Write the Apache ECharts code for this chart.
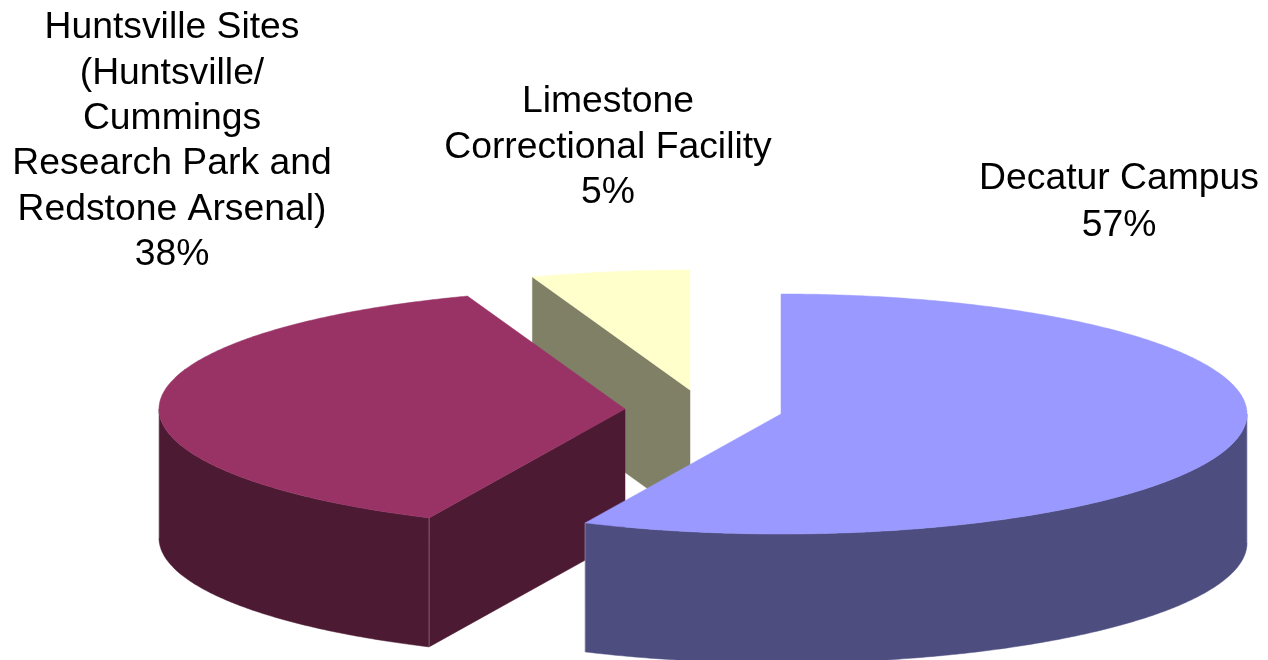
<!DOCTYPE html>
<html>
<head>
<meta charset="utf-8">
<style>html,body{margin:0;padding:0;background:#fff;overflow:hidden}#c{width:1268px;height:660px}</style>
<script src="https://cdn.jsdelivr.net/npm/echarts@6/dist/echarts.min.js"></script>
</head>
<body>
<div id="c"></div>
<script>
// Data
const categories = ['Decatur Campus', 'Huntsville Sites\n(Huntsville/\nCummings\nResearch Park and\nRedstone Arsenal)', 'Limestone\nCorrectional Facility'];
const shares = [56.9, 37.6, 5.49];

// Style and layout
const topColors = ['#9999FF', '#993366', '#FFFFCC'];
const wallColors = ['#4D4D80', '#4D1A33', '#808066'];
const sliceCentres = [[781, 414], [625, 409], [690, 390]];
const labelCentres = [[1119, 202.5], [172, 141.5], [608, 147.5]];
const labelLineHeights = [47, 45.4, 45.4];
const radiusX = 466, radiusY = 120, depth = 129;
const font = '"Liberation Sans", Arial, sans-serif';

const total = shares.reduce((a, b) => a + b, 0);
const startAngles = shares.map((_, i) => shares.slice(0, i).reduce((a, b) => a + b, 0) / total * 360);

function rimPoint(c, deg, drop) {
  const t = deg * Math.PI / 180;
  return [c[0] + radiusX * Math.sin(t), c[1] - radiusY * Math.cos(t) + drop];
}
function arc(c, a0, a1, drop) {
  const n = Math.max(2, Math.ceil(Math.abs(a1 - a0) * 2));
  const pts = [];
  for (let i = 0; i <= n; i++) pts.push(rimPoint(c, a0 + (a1 - a0) * i / n, drop));
  return pts;
}
const poly = (points, fill, z2) => ({ type: 'polygon', z2, silent: true, shape: { points }, style: { fill, stroke: fill, lineWidth: 0.5 } });
const edge = (p, q, z2, alpha) => ({ type: 'line', z2, silent: true, shape: { x1: p[0], y1: p[1], x2: q[0], y2: q[1] }, style: { stroke: 'rgba(255,255,255,' + alpha + ')', lineWidth: 1 } });

function renderSlice(params, api) {
  const i = params.dataIndex;
  const c = sliceCentres[i];
  const a0 = startAngles[i];
  const a1 = a0 + api.value(0) / total * 360;
  const base = (shares.length - i) * 10;
  const apexLow = [c[0], c[1] + depth];
  const children = [];

  // Cut faces that look toward the viewer
  const s0 = rimPoint(c, a0, 0), s0Low = rimPoint(c, a0, depth);
  if (Math.sin(a0 * Math.PI / 180) < -1e-6) {
    children.push(poly([c, s0, s0Low, apexLow], wallColors[i], base));
  }
  const s1 = rimPoint(c, a1, 0), s1Low = rimPoint(c, a1, depth);
  if (Math.sin(a1 * Math.PI / 180) > 1e-6) {
    children.push(poly([c, s1, s1Low, apexLow], wallColors[i], base));
  }
  // Outer wall: the near half of the rim only
  const w0 = Math.max(a0, 90), w1 = Math.min(a1, 270);
  if (w1 > w0) {
    const upper = arc(c, w0, w1, 0), lower = arc(c, w1, w0, depth);
    children.push(poly(upper.concat(lower), wallColors[i], base + 1));
    children.push(edge(rimPoint(c, w0, 0), rimPoint(c, w0, depth), base + 2, 0.3));
    children.push(edge(rimPoint(c, w1, 0), rimPoint(c, w1, depth), base + 2, 0.3));
  }
  // Top face
  children.push(poly([c].concat(arc(c, a0, a1, 0)), topColors[i], base + 3));
  // Label
  children.push({
    type: 'text', z2: 100, silent: true,
    style: {
      text: categories[i] + '\n' + Math.round(api.value(0)) + '%',
      x: labelCentres[i][0], y: labelCentres[i][1],
      align: 'center', verticalAlign: 'middle',
      fill: '#000', font: '37.3px ' + font, lineHeight: labelLineHeights[i]
    }
  });
  return { type: 'group', children };
}

const chart = echarts.init(document.getElementById('c'), null, { renderer: 'canvas', width: 1268, height: 660 });
chart.setOption({
  animation: false,
  backgroundColor: '#fff',
  series: [{
    type: 'custom',
    coordinateSystem: 'none',
    renderItem: renderSlice,
    clip: false,
    data: shares.map((v, i) => ({ name: categories[i], value: [v] }))
  }]
});
</script>
</body>
</html>
